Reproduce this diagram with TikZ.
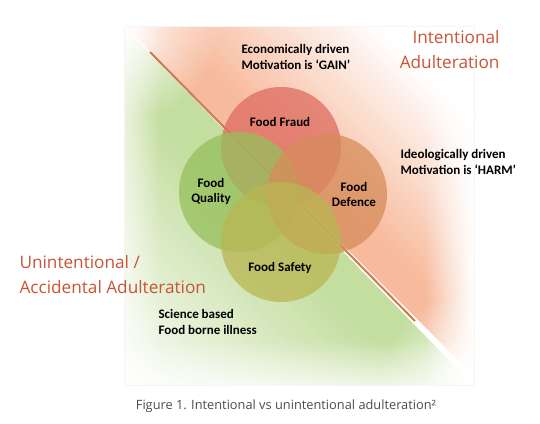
\documentclass[tikz,border=0pt]{standalone}
\usepackage{fontspec}
\usetikzlibrary{fadings}
\setmainfont{Carlito}
\newfontfamily\capfont{Open Sans}
\definecolor{bgorange}{RGB}{247,186,156}
\definecolor{bggreen}{RGB}{196,222,160}
\definecolor{fraudred}{RGB}{222,108,98}
\definecolor{qualgreen}{RGB}{150,192,92}
\definecolor{defbrown}{RGB}{214,140,90}
\definecolor{safeolive}{RGB}{186,182,82}
\definecolor{titlered}{RGB}{200,84,54}
\definecolor{divline}{RGB}{204,124,82}
\tikzfading[name=softspot, inner color=transparent!0, outer color=transparent!100]
\tikzfading[name=fadeleft, left color=transparent!100, right color=transparent!0]
\tikzfading[name=faderight, left color=transparent!0, right color=transparent!100]
\tikzfading[name=fadeup, top color=transparent!100, bottom color=transparent!0]
\begin{document}
\begin{tikzpicture}[x=1pt,y=-1pt,
    ring/.style={circle,minimum size=120pt,inner sep=0pt,fill opacity=0.75},
    ringlabel/.style={font=\bfseries\fontsize{13}{15}\selectfont,align=center},
    note/.style={font=\bfseries\fontsize{13}{16.5}\selectfont,align=left,anchor=west},
    headline/.style={font=\capfont\fontsize{17.2}{25}\selectfont,text=titlered}]

  \useasboundingbox (0,0) rectangle (540,423);

  % shaded halves of the square, in bands along the diagonal
  \begin{scope}
    \clip (124,26) -- (474,26) -- (474,385) -- cycle;
    \foreach \k in {0,8,...,256} {
      \pgfmathsetmacro\tint{max(0,min(100,100-(\k-35)/2.15))}
      \fill[bgorange!\tint!white] (-200,-298-\k) -- (800,702-\k) -- (800,693-\k) -- (-200,-307-\k) -- cycle;
    }
  \end{scope}
  \begin{scope}
    \clip (124,26) -- (124,385) -- (474,385) -- cycle;
    \foreach \k in {0,8,...,376} {
      \pgfmathsetmacro\tint{max(0,min(100,100-(\k-57)/3.11))}
      \fill[bggreen!\tint!white] (-200,-298+\k) -- (800,702+\k) -- (800,711+\k) -- (-200,-289+\k) -- cycle;
    }
  \end{scope}
  % paler ends and edges
  \fill[white, path fading=fadeleft] (425,26) rectangle (474,385);
  \fill[white, path fading=faderight, fill opacity=0.6] (124,26) rectangle (160,385);
  \fill[white, path fading=fadeup, fill opacity=0.7] (124,340) rectangle (474,385);
  \fill[white, path fading=softspot] (124,26) circle (95pt);
  \fill[white, path fading=softspot] (474,385) circle (95pt);
  \draw[black!4] (124,26) rectangle (474,385);
  \draw[white, line width=1pt] (124,26) -- (474,385);

  % dividing line
  \coordinate (diagA) at (150,52);
  \coordinate (diagB) at (415,321);
  \draw[divline, line width=2pt] (diagA) -- (diagB);

  % the four circles
  \node[ring, fill=fraudred] (fraud) at (281,147) {};
  \node[ring, fill=qualgreen] (quality) at (239,192) {};
  \node[ring, fill=defbrown] (defence) at (327,194) {};
  \node[ring, fill=safeolive] (safety) at (281,242) {};

  \node[ringlabel] (fraudtxt) at (280,122) {Food Fraud};
  \node[ringlabel] (qualtxt) at (211,191) {Food\\Quality};
  \node[ringlabel] (deftxt) at (354,194) {Food\\Defence};
  \node[ringlabel] (safetxt) at (280,268) {Food Safety};

  % notes
  \node[note] (gain) at (238,57) {Economically driven\\Motivation is ‘GAIN’};
  \node[note] (harm) at (397,162) {Ideologically driven\\Motivation is ‘HARM’};
  \node[note] (science) at (155,322) {Science based\\Food borne illness};

  % headlines
  \node[headline, align=right, anchor=east] (intent) at (503,50) {Intentional\\Adulteration};
  \node[headline, align=left, anchor=west] (unintent) at (16,275) {Unintentional /\\Accidental Adulteration};

  % caption
  \node[font=\capfont\fontsize{12.8}{14}\selectfont, text=black!70] (caption) at (286,406)
    {Figure 1. Intentional vs unintentional adulteration²};

\end{tikzpicture}
\end{document}
